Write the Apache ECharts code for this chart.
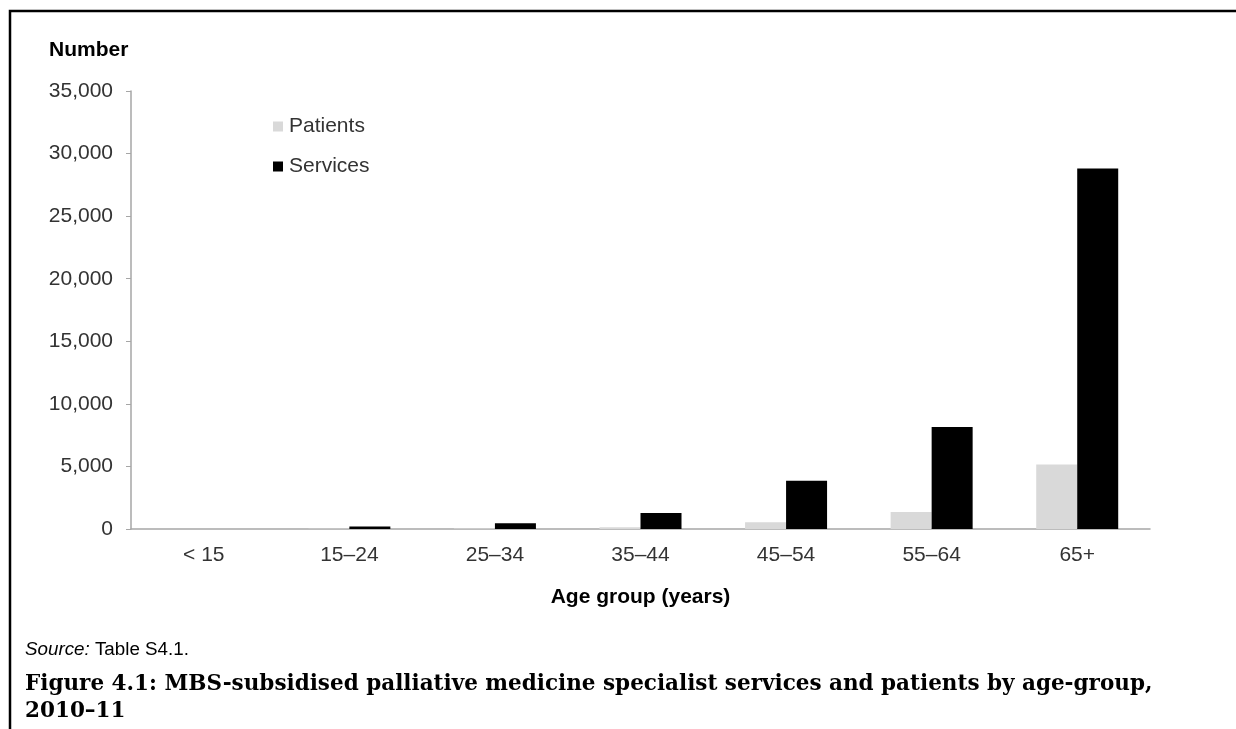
<!DOCTYPE html>
<html>
<head>
<meta charset="utf-8">
<title>MBS-subsidised palliative medicine specialist services</title>
<script src="https://cdn.jsdelivr.net/npm/echarts@6/dist/echarts.min.js"></script>
<style>
  html, body { margin: 0; padding: 0; background: #fff; }
  #chart { width: 1236px; height: 729px; }
</style>
</head>
<body>
<div id="chart"></div>
<script>
// data
var ageGroups = ['< 15', '15–24', '25–34', '35–44', '45–54', '55–64', '65+'];
var patients = [3, 15, 40, 130, 530, 1360, 5150];
var services = [6, 190, 450, 1280, 3850, 8150, 28800];
var yTicks = [0, 5000, 10000, 15000, 20000, 25000, 30000, 35000];

var chart = echarts.init(document.getElementById('chart'));

var sans = 'Liberation Sans, Arial, sans-serif';
var serif = 'DejaVu Serif, serif';

chart.setOption({
  animation: false,
  backgroundColor: '#fff',
  grid: { left: 131, right: 86, top: 91, bottom: 200 },
  legend: {
    data: ['Patients', 'Services'],
    orient: 'vertical',
    left: 273,
    top: 116,
    padding: 0,
    itemWidth: 10,
    itemHeight: 10,
    itemGap: 19,
    icon: 'rect',
    textStyle: { fontFamily: sans, fontSize: 21, color: '#333', padding: [0, 0, 0, 1] }
  },
  xAxis: {
    type: 'category',
    data: ageGroups,
    name: 'Age group (years)',
    nameLocation: 'middle',
    nameGap: 58,
    nameTextStyle: { fontFamily: sans, fontSize: 21, fontWeight: 'bold', color: '#000' },
    axisLine: { show: true, lineStyle: { color: '#a6a6a6', width: 1.5 } },
    axisTick: { show: false },
    axisLabel: { fontFamily: sans, fontSize: 21, color: '#333', margin: 16 },
    splitLine: { show: false }
  },
  yAxis: {
    type: 'value',
    min: yTicks[0],
    max: yTicks[yTicks.length - 1],
    interval: yTicks[1] - yTicks[0],
    axisLine: { show: true, lineStyle: { color: '#a6a6a6', width: 1.5 } },
    axisTick: { show: true, length: 5, lineStyle: { color: '#a6a6a6' } },
    axisLabel: {
      fontFamily: sans, fontSize: 21, color: '#333', margin: 18,
      formatter: function (v) { return v.toLocaleString('en-US'); }
    },
    splitLine: { show: false }
  },
  series: [
    {
      name: 'Patients',
      type: 'bar',
      barWidth: 41,
      barGap: '0%',
      itemStyle: { color: '#d9d9d9' },
      data: patients
    },
    {
      name: 'Services',
      type: 'bar',
      barWidth: 41,
      barGap: '0%',
      itemStyle: { color: '#000' },
      data: services
    }
  ],
  graphic: [
    {
      type: 'rect',
      shape: { x: 10, y: 11, width: 1400, height: 900 },
      style: { fill: 'none', stroke: '#000', lineWidth: 2.5 },
      silent: true
    },
    {
      type: 'text',
      left: 49,
      top: 40,
      style: { text: 'Number', fontFamily: sans, fontSize: 21, fontWeight: 'bold', fill: '#000' }
    },
    {
      type: 'text',
      left: 25,
      top: 640,
      style: {
        text: '{i|Source:} Table S4.1.',
        fontFamily: sans, fontSize: 18.8, fill: '#000',
        rich: { i: { fontFamily: sans, fontSize: 18.8, fontStyle: 'italic', fill: '#000' } }
      }
    },
    {
      type: 'text',
      left: 25,
      top: 671,
      style: {
        text: 'Figure 4.1: MBS-subsidised palliative medicine specialist services and patients by age-group,\n2010–11',
        fontFamily: serif, fontSize: 21.5, fontWeight: 'bold', fill: '#000', lineHeight: 27
      }
    }
  ]
});
</script>
</body>
</html>
